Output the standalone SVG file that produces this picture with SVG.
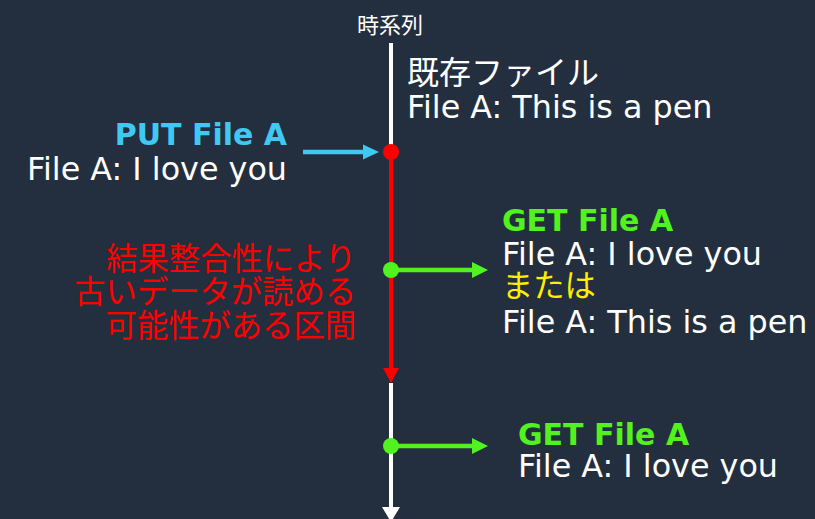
<svg xmlns="http://www.w3.org/2000/svg" width="815" height="519" viewBox="0 0 815 519">
<style>
text{font-family:"DejaVu Sans","Noto Sans CJK JP",sans-serif;font-size:31.8px;fill:#ffffff}
.cjk{font-family:"Noto Sans CJK JP",sans-serif;font-size:31.3px}
.b{font-weight:bold;font-size:30px}
.end{text-anchor:end}
</style>
<rect width="815" height="519" fill="#232f3e"/>
<g id="connectors">
  <line x1="391" y1="43" x2="391" y2="152" stroke="#ffffff" stroke-width="4"/>
  <line x1="391" y1="152" x2="391" y2="370" stroke="#ff0000" stroke-width="4"/>
  <polygon points="383,368 399,368 391,383" fill="#ff0000"/>
  <line x1="391" y1="383" x2="391" y2="508" stroke="#ffffff" stroke-width="4"/>
  <polygon points="382,507 400,507 391,522" fill="#ffffff"/>
  <line x1="303" y1="152" x2="365" y2="152" stroke="#3fc9f2" stroke-width="4.5"/>
  <polygon points="363,144.5 379,152 363,159.5" fill="#3fc9f2"/>
  <line x1="391" y1="270" x2="474" y2="270" stroke="#52f21f" stroke-width="4.5"/>
  <polygon points="472,262 488,270 472,278" fill="#52f21f"/>
  <line x1="391" y1="446" x2="474" y2="446" stroke="#52f21f" stroke-width="4.5"/>
  <polygon points="472,438 488,446 472,454" fill="#52f21f"/>
</g>
<g id="timeline-label">
  <text class="cjk" x="390" y="33" text-anchor="middle" style="font-size:22px">時系列</text>
</g>
<g id="existing">
  <text class="cjk" x="407" y="84" style="font-size:32px">既存ファイル</text>
  <text x="407" y="118">File A: This is a pen</text>
</g>
<g id="put">
  <circle cx="391" cy="152" r="8" fill="#ff0000"/>
  <text class="b end" x="287" y="145" style="fill:#3fc9f2">PUT File A</text>
  <text class="end" x="287" y="180">File A: I love you</text>
</g>
<g id="get1">
  <circle cx="391" cy="270" r="8" fill="#52f21f"/>
  <text class="b" x="502" y="231" style="fill:#52f21f">GET File A</text>
  <text x="502" y="265">File A: I love you</text>
  <text class="cjk" x="502" y="297" style="fill:#ffee00">または</text>
  <text x="502" y="333">File A: This is a pen</text>
</g>
<g id="get2">
  <circle cx="391" cy="446" r="8" fill="#52f21f"/>
  <text class="b" x="518" y="445" style="fill:#52f21f">GET File A</text>
  <text x="518" y="477">File A: I love you</text>
</g>
<g id="window-note">
  <text class="cjk end" x="356" y="270" style="fill:#ff0000">結果整合性により</text>
  <text class="cjk end" x="356" y="303" style="fill:#ff0000">古いデータが読める</text>
  <text class="cjk end" x="356" y="337" style="fill:#ff0000">可能性がある区間</text>
</g>
</svg>
